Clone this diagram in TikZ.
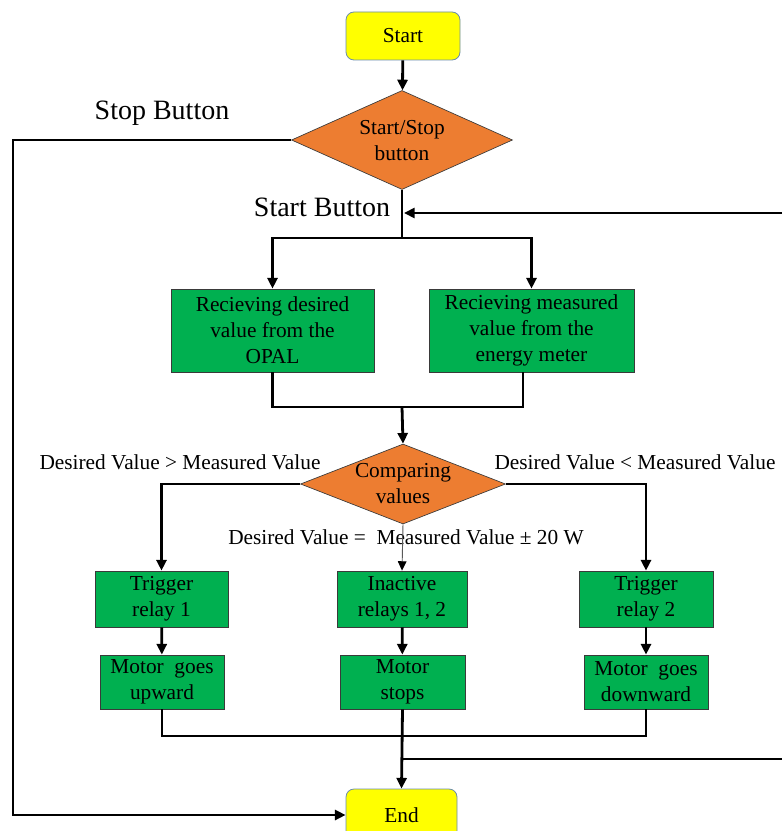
\documentclass[tikz,border=0pt]{standalone}
\usepackage{fontspec}
\setmainfont{Liberation Serif}
\usetikzlibrary{shapes.geometric,arrows.meta,positioning}

\definecolor{termfill}{HTML}{FFFF00}
\definecolor{termedge}{HTML}{6A8CAA}
\definecolor{decfill}{HTML}{ED7D31}
\definecolor{procfill}{HTML}{00B050}
\definecolor{procedge}{HTML}{3A3A3A}

\tikzset{
  terminal/.style={draw=termedge, line width=0.6pt, fill=termfill, rounded corners=6pt,
    inner sep=0pt, align=center},
  decision/.style={shape=diamond, draw=procedge, line width=0.5pt, fill=decfill, inner sep=0pt},
  process/.style={draw=procedge, line width=0.6pt, fill=procfill, inner sep=0pt, align=center},
  boxtext/.style={font=\fontsize{16}{19.5}\selectfont, align=center, inner sep=0pt},
  bigtext/.style={font=\fontsize{21}{25}\selectfont, inner sep=0pt},
  flow/.style={line width=2.1pt, draw=black},
  arr/.style={flow, -{Triangle[length=8pt,width=7.5pt]}},
  thinarr/.style={line width=0.7pt, draw=black!65, -{Triangle[length=7pt,width=6.5pt,color=black]}},
  sz/.style 2 args={minimum width=#1*0.75pt, minimum height=#2*0.75pt}
}

\begin{document}
\begin{tikzpicture}[x=0.75pt, y=-0.75pt, font=\fontsize{16}{19.5}\selectfont]
\useasboundingbox (0,0) rectangle (782,831);
\clip (0,0) rectangle (782,831);

% terminals
\node[terminal, sz={114}{48}] (start) at (403,36) {Start};
\node[terminal, sz={111}{52}] (end) at (401.5,815) {};
\node[boxtext] (endtext) at (401.5,815) {End};

% start/stop decision
\node[decision, sz={221}{99}] (ss) at (402,140) {};
\node[boxtext] (sstext) at (402,141) {Start/Stop\\button};

% data acquisition
\node[process, sz={203}{83}] (recv1) at (272.5,330.5) {Recieving desired\\value from the\\OPAL};
\node[process, sz={205}{83}] (recv2) at (531.5,330.5) {Recieving measured\\value from the\\energy meter};

% comparison decision
\node[decision, sz={205}{80}] (cmp) at (403,484) {};
\node[boxtext] (cmptext) at (403,484) {Comparing\\values};

% relay actions
\node[process, sz={133}{56}] (trig1) at (161.5,599) {Trigger\\relay 1};
\node[process, sz={130}{56}] (inact) at (402,599) {Inactive\\relays 1, 2};
\node[process, sz={134}{56}] (trig2) at (646,599) {Trigger\\relay 2};

% motor states
\node[process, sz={124}{54}] (mot1) at (162,682) {Motor\ \ goes\\upward};
\node[process, sz={125}{54}] (mot2) at (402.5,682) {Motor\\stops};
\node[process, sz={124}{54}] (mot3) at (646,682) {Motor\ \ goes\\downward};

% labels
\node[bigtext] (stoplbl) at (162,113) {Stop Button};
\node[bigtext] (startlbl) at (322,207) {Start Button};
\node[boxtext] (gtlbl) at (180,462) {Desired Value > Measured Value};
\node[boxtext] (ltlbl) at (635,462) {Desired Value < Measured Value};
\node[boxtext] (eqlbl) at (406,537) {Desired Value =\ \ Measured Value ± 20 W};

% junction points
\coordinate (stopcorner) at (13,140);
\coordinate (split) at (402,238);
\coordinate (loopin) at (782,213);
\coordinate (loopjoin) at (404,213);
\coordinate (merge) at (402,407);
\coordinate (collect) at (402,736);
\coordinate (loopout) at (402,759);
\coordinate (loopedge) at (782,759);

% connectors
\draw[arr] (start) -- (ss);
\draw[arr] (ss.west) -- (stopcorner) |- (end.west);
\draw[flow] (ss.south) -- (split);
\draw[arr] (loopin) -- (loopjoin);
\draw[arr] (split) -| (recv1.north);
\draw[arr] (split) -| (recv2.north);
\draw[flow] (recv1.south) |- (merge) -| ([xshift=-6.4pt]recv2.south);
\draw[arr] (merge) -- (cmp.north);
\draw[arr] (cmp.west) -| (trig1.north);
\draw[arr] (cmp.east) -| (trig2.north);
\draw[thinarr] (cmp.south) -- (inact.north);
\draw[arr] (trig1) -- (mot1);
\draw[arr] (inact) -- (mot2);
\draw[arr] (trig2) -- (mot3);
\draw[flow] (mot1.south) |- (collect) -| (mot3.south);
\draw[arr] (mot2.south) -- (end.north);
\draw[flow] (loopout) -- (loopedge);
\end{tikzpicture}
\end{document}
